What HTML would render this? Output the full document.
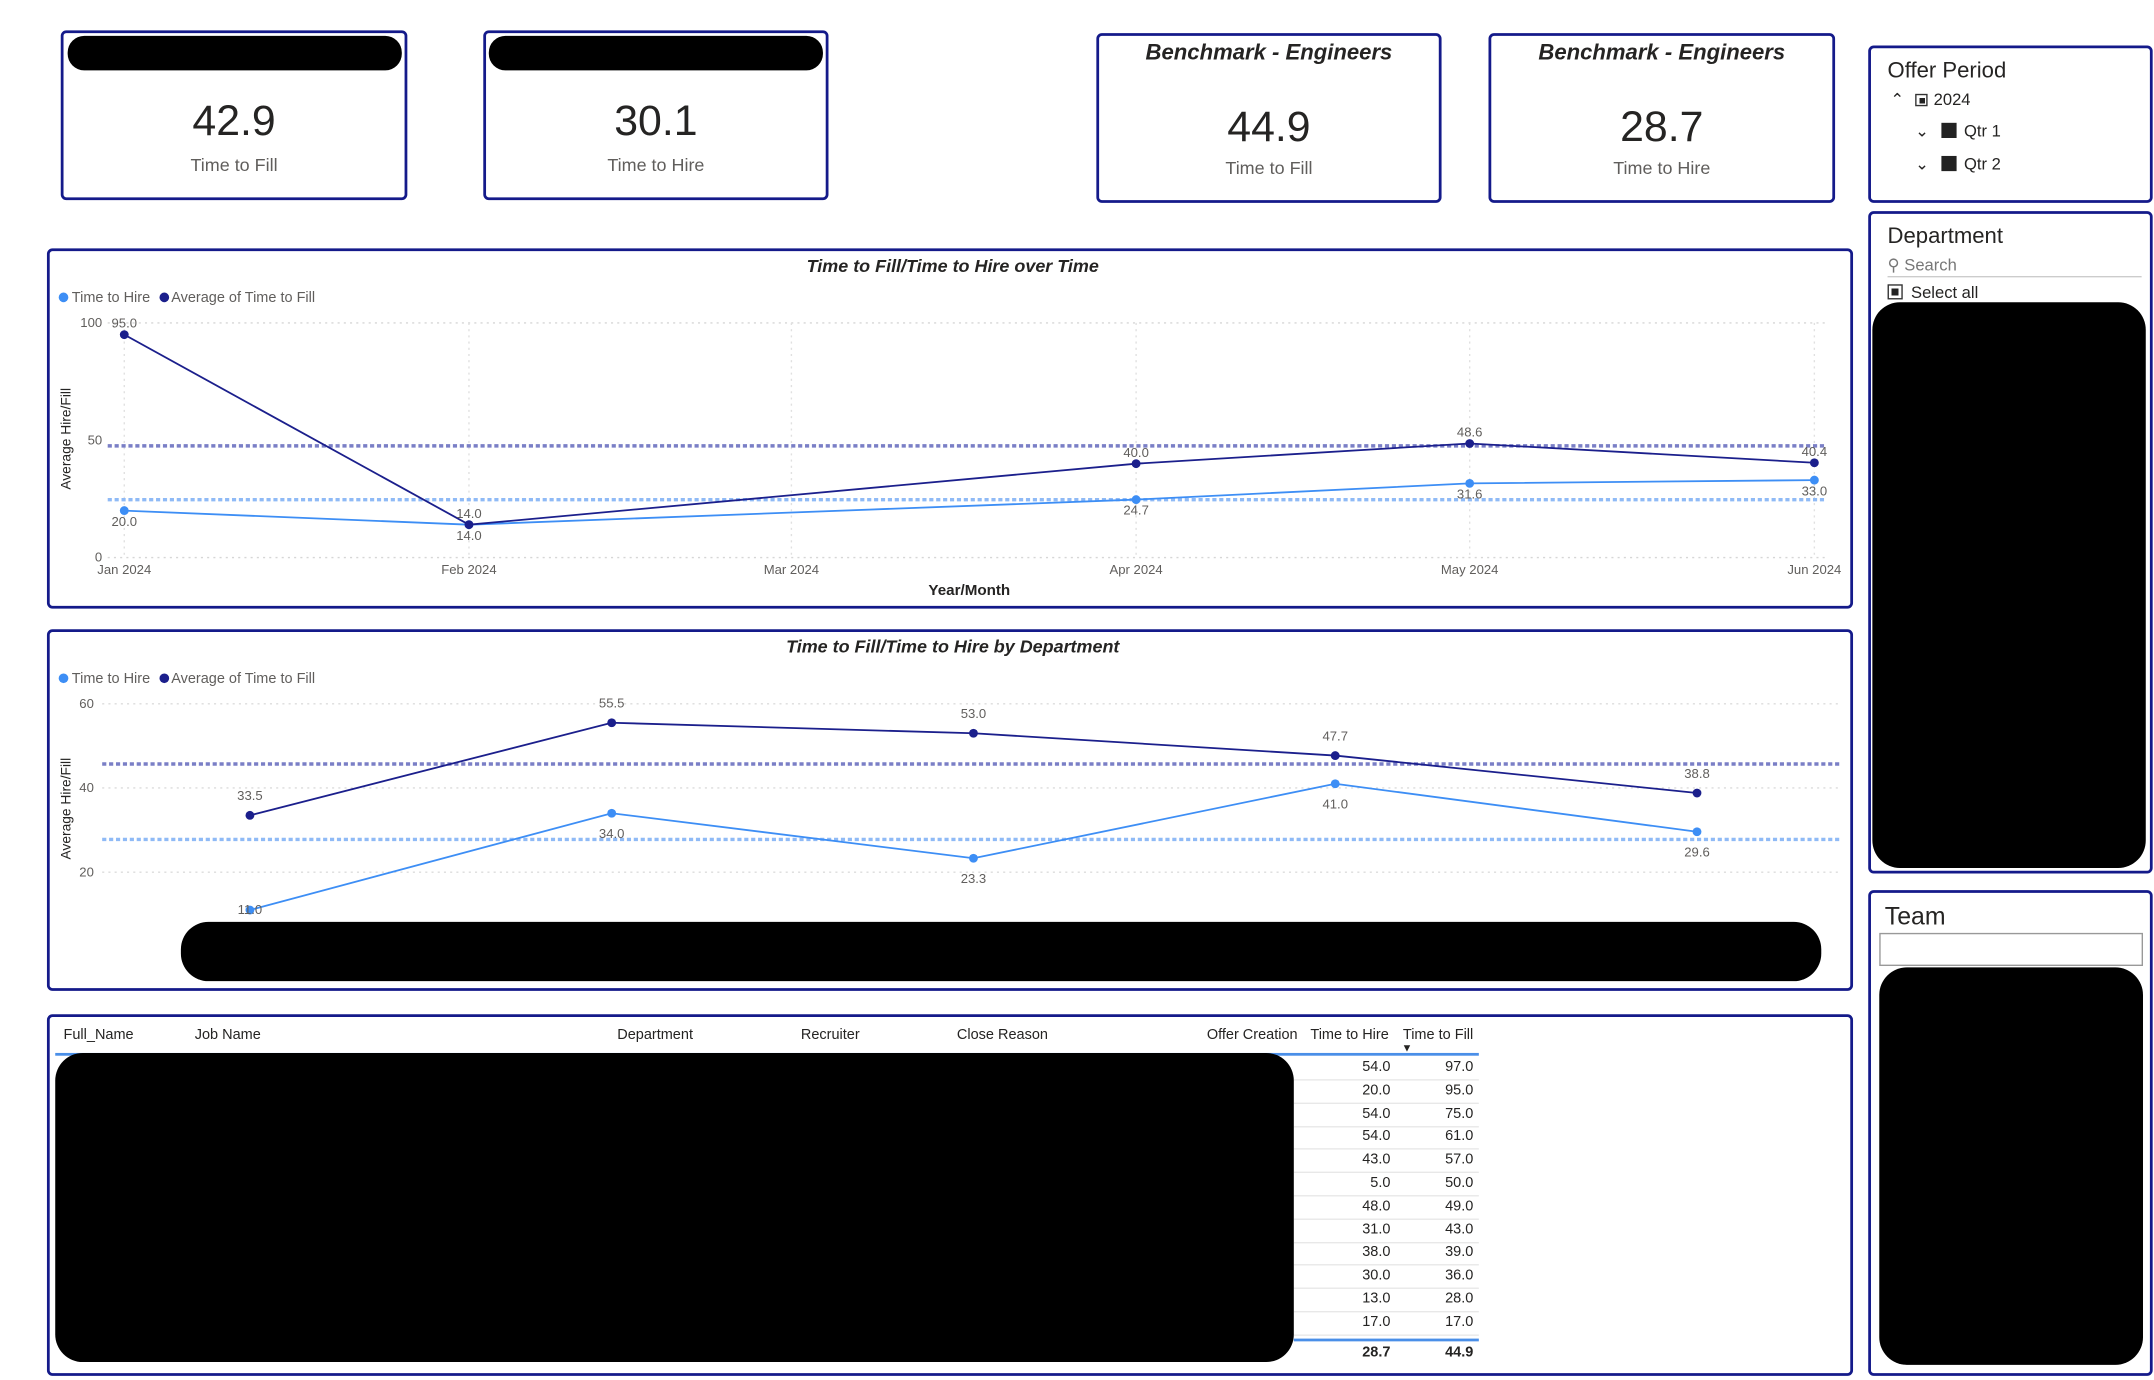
<!DOCTYPE html>
<html><head><meta charset="utf-8">
<style>
html,body{margin:0;padding:0;background:#fff;width:2154px;height:1380px;overflow:hidden}
#root{position:absolute;left:0;top:0;width:1560px;height:1000px;transform:scale(1.3808,1.38);transform-origin:0 0;font-family:"Liberation Sans",sans-serif;color:#252423}
.card{position:absolute;border:2.5px solid #141a8a;border-radius:4px;box-sizing:border-box;background:#fff}
.abs{position:absolute}
.kv{position:absolute;left:0;right:0;text-align:center;font-size:31px;color:#252423}
.kl{position:absolute;left:0;right:0;text-align:center;font-size:13px;color:#605e5c}
.kt{position:absolute;left:0;right:0;text-align:center;font-size:16px;font-weight:bold;font-style:italic;color:#252423}
.redact{position:absolute;background:#000}
.th{position:absolute;font-size:10.5px;color:#252423;top:744px}
.cell{position:absolute;font-size:10.5px;text-align:right;width:50px}
</style></head><body>
<div id="root">

<div class="card" style="left:44px;top:22px;width:251px;height:123px">
 <div class="redact" style="left:3px;top:2px;width:242px;height:25px;border-radius:12px"></div>
 <div class="kv" style="top:46px">42.9</div>
 <div class="kl" style="top:88px">Time to Fill</div>
</div>
<div class="card" style="left:350px;top:22px;width:250px;height:123px">
 <div class="redact" style="left:2px;top:2px;width:242px;height:25px;border-radius:12px"></div>
 <div class="kv" style="top:46px">30.1</div>
 <div class="kl" style="top:88px">Time to Hire</div>
</div>
<div class="card" style="left:794px;top:24px;width:250px;height:123px">
 <div class="kt" style="top:4px">Benchmark - Engineers</div>
 <div class="kv" style="top:48px">44.9</div>
 <div class="kl" style="top:88px">Time to Fill</div>
</div>
<div class="card" style="left:1078px;top:24px;width:251px;height:123px">
 <div class="kt" style="top:4px">Benchmark - Engineers</div>
 <div class="kv" style="top:48px">28.7</div>
 <div class="kl" style="top:88px">Time to Hire</div>
</div>

<div class="card" style="left:1353px;top:33px;width:206px;height:114px;overflow:hidden">
 <div class="abs" style="left:12px;top:8px;font-size:16px">Offer Period</div>
 <div class="abs" style="left:14px;top:30px;font-size:12px">⌃ <span style="display:inline-block;width:9px;height:9px;border:1px solid #333;margin:0 4px 0 5px;vertical-align:-1px;box-sizing:border-box;background:#fff;padding:1.5px;background-clip:content-box;background-color:#222"></span>2024</div>
 <div class="abs" style="left:32px;top:53px;font-size:12px">⌄ <span style="display:inline-block;width:11px;height:11px;background:#222;margin:0 5px 0 6px;vertical-align:-1px"></span>Qtr 1</div>
 <div class="abs" style="left:32px;top:77px;font-size:12px">⌄ <span style="display:inline-block;width:11px;height:11px;background:#222;margin:0 5px 0 6px;vertical-align:-1px"></span>Qtr 2</div>
</div>

<div class="card" style="left:1353px;top:153px;width:206px;height:480px">
 <div class="abs" style="left:12px;top:8px;font-size:16px">Department</div>
 <div class="abs" style="left:12px;top:30px;font-size:12px;color:#777;width:184px;border-bottom:1px solid #ccc;padding-bottom:1px">⚲ Search</div>
 <div class="abs" style="left:12px;top:50px;font-size:12px"><span style="display:inline-block;width:11px;height:11px;border:1px solid #333;box-sizing:border-box;padding:2px;background:#222;background-clip:content-box;margin-right:6px;vertical-align:-1px"></span>Select all</div>
 <div class="redact" style="left:1px;top:64px;width:198px;height:410px;border-radius:20px"></div>
</div>

<div class="card" style="left:1353px;top:645px;width:206px;height:352px">
 <div class="abs" style="left:10px;top:7px;font-size:18px">Team</div>
 <div class="abs" style="left:6px;top:29px;width:191px;height:24px;border:1px solid #999;box-sizing:border-box"></div>
 <div class="redact" style="left:6px;top:54px;width:191px;height:288px;border-radius:20px"></div>
</div>

<div class="card" style="left:34px;top:180px;width:1308px;height:261px"></div>
<div class="card" style="left:34px;top:456px;width:1308px;height:262px"></div>
<svg id="charts" class="abs" style="left:0;top:0" width="1560" height="1000"></svg>
<div class="redact" style="left:131px;top:668px;width:1188px;height:43px;border-radius:20px"></div>

<div class="card" style="left:34px;top:735px;width:1308px;height:262px"></div>
<div class="th" style="left:46px">Full_Name</div>
<div class="th" style="left:141px">Job Name</div>
<div class="th" style="left:447px">Department</div>
<div class="th" style="left:580px">Recruiter</div>
<div class="th" style="left:693px">Close Reason</div>
<div class="th" style="left:874px">Offer Creation</div>
<div class="th" style="left:949px">Time to Hire</div>
<div class="th" style="left:1016px">Time to Fill</div>
<div class="abs" style="left:1015px;top:755px;font-size:8px">▼</div>
<div class="abs" style="left:40px;top:763px;width:1031px;height:1.5px;background:#4a8fe8"></div>
<div id="rows"></div>
<div class="abs" style="left:937px;top:970px;width:134px;height:2px;background:#4a8fe8"></div>
<div class="cell" style="left:957px;top:974px;font-weight:bold">28.7</div>
<div class="cell" style="left:1017px;top:974px;font-weight:bold">44.9</div>
<div class="redact" style="left:40px;top:763px;width:897px;height:224px;border-radius:20px"></div>
</div>

<script>
const tableHire=[54,20,54,54,43,5,48,31,38,30,13,17];
const tableFill=[97,95,75,61,57,50,49,43,39,36,28,17];

const months=["2024-01-01","2024-02-01","2024-03-01","2024-04-01","2024-05-01","2024-06-01"];
const monthLabels=["Jan 2024","Feb 2024","Mar 2024","Apr 2024","May 2024","Jun 2024"];
const timeFill=[95.0,14.0,null,40.0,48.6,40.4];
const timeHire=[20.0,14.0,null,24.7,31.6,33.0];
const timeTicks=[0,50,100];

const deptFill=[33.5,55.5,53.0,47.7,38.8];
const deptHire=[11.0,34.0,23.3,41.0,29.6];
const deptTicks=[20,40,60];

const NS="http://www.w3.org/2000/svg";
const svg=document.getElementById('charts');
const DARK="#1b1f8c", LIGHT="#3d8ef5";
function mk(tag,attrs,parent){const e=document.createElementNS(NS,tag);for(const k in attrs)e.setAttribute(k,attrs[k]);(parent||svg).appendChild(e);return e;}
function txt(s,x,y,size,fill,anchor,extra){const t=mk('text',Object.assign({x:x,y:y,'font-size':size,fill:fill,'text-anchor':anchor||'middle','font-family':'Liberation Sans, sans-serif'},extra||{}));t.textContent=s;return t;}
function mean(a){const v=a.filter(x=>x!=null);return v.reduce((s,x)=>s+x,0)/v.length;}

// rows
const rows=document.getElementById('rows');
tableHire.forEach((h,i)=>{
  const y=767+i*16.8;
  const a=document.createElement('div');a.className='cell';a.style.left='957px';a.style.top=y+'px';a.textContent=h.toFixed(1);
  
  
  rows.appendChild(a);
  const b=document.createElement('div');b.className='cell';b.style.left='1017px';b.style.top=y+'px';b.textContent=tableFill[i].toFixed(1);
  
  
  rows.appendChild(b);
  const l=document.createElement('div');l.className='abs';l.style.cssText='left:937px;width:134px;height:1px;background:#e8e8e8;top:'+(y+15)+'px';
  
  
  rows.appendChild(l);
});

function legend(y){
  mk('circle',{cx:46,cy:y-3.5,r:3.5,fill:LIGHT});
  txt('Time to Hire',52,y,10.5,'#605e5c','start');
  mk('circle',{cx:119,cy:y-3.5,r:3.5,fill:DARK});
  txt('Average of Time to Fill',124,y,10.5,'#605e5c','start');
}

// Chart 1
(function(){
  const t0=Date.parse(months[0]), t1=Date.parse(months[5]);
  const X=d=>90+(Date.parse(d)-t0)/(t1-t0)*(1314-90);
  const Y=v=>404-v*1.7;
  const g=mk('g',{});
  
  
  txt('Time to Fill/Time to Hire over Time',690,197,13,'#252423','middle',{'font-weight':'bold','font-style':'italic'});
  legend(219);
  timeTicks.forEach(v=>{
    if(v!==50) mk('line',{x1:78,x2:1322,y1:Y(v),y2:Y(v),stroke:'#d6d6d6','stroke-dasharray':'1.5,3'});
    txt(String(v),74,Y(v)+3,9.5,'#605e5c','end');
  });
  months.forEach((m,i)=>{
    mk('line',{x1:X(m),x2:X(m),y1:Y(100),y2:Y(0),stroke:'#e0e0e0','stroke-dasharray':'1.5,3'});
    txt(monthLabels[i],X(m),416,9.5,'#605e5c');
  });
  const ax=txt('Average Hire/Fill',0,0,10,'#252423','middle',{transform:'translate(51,318) rotate(-90)'});
  txt('Year/Month',702,431,11,'#252423','middle',{'font-weight':'bold'});
  mk('line',{x1:78,x2:1322,y1:Y(mean(timeFill)),y2:Y(mean(timeFill)),stroke:'#7a7fc6','stroke-width':2.5,'stroke-dasharray':'3,2'});
  mk('line',{x1:78,x2:1322,y1:Y(mean(timeHire)),y2:Y(mean(timeHire)),stroke:'#8fbaf6','stroke-width':2.5,'stroke-dasharray':'3,2'});
  [[timeHire,LIGHT,1,11],[timeFill,DARK,-1,-5]].forEach(([arr,col,dir,off])=>{
    const pts=[];arr.forEach((v,i)=>{if(v!=null)pts.push([X(months[i]),Y(v),v]);});
    mk('polyline',{points:pts.map(p=>p[0]+','+p[1]).join(' '),fill:'none',stroke:col,'stroke-width':1.3});
    pts.forEach(p=>{mk('circle',{cx:p[0],cy:p[1],r:3.2,fill:col});txt(p[2].toFixed(1),p[0],p[1]+off,9.5,'#605e5c');});
  });
})();

// Chart 2
(function(){
  const X=i=>181+i*262;
  const Y=v=>693-v*3.05;
  txt('Time to Fill/Time to Hire by Department',690,473,13,'#252423','middle',{'font-weight':'bold','font-style':'italic'});
  legend(495);
  deptTicks.forEach(v=>{
    mk('line',{x1:74,x2:1334,y1:Y(v),y2:Y(v),stroke:'#dcdcdc','stroke-dasharray':'1.5,3'});
    txt(String(v),68,Y(v)+3,9.5,'#605e5c','end');
  });
  txt('Average Hire/Fill',0,0,10,'#252423','middle',{transform:'translate(51,586) rotate(-90)'});
  mk('line',{x1:74,x2:1334,y1:Y(mean(deptFill)),y2:Y(mean(deptFill)),stroke:'#7a7fc6','stroke-width':2.5,'stroke-dasharray':'3,2'});
  mk('line',{x1:74,x2:1334,y1:Y(mean(deptHire)),y2:Y(mean(deptHire)),stroke:'#8fbaf6','stroke-width':2.5,'stroke-dasharray':'3,2'});
  [[deptHire,LIGHT,18],[deptFill,DARK,-11]].forEach(([arr,col,off])=>{
    mk('polyline',{points:arr.map((v,i)=>X(i)+','+Y(v)).join(' '),fill:'none',stroke:col,'stroke-width':1.3});
    arr.forEach((v,i)=>{mk('circle',{cx:X(i),cy:Y(v),r:3.2,fill:col});txt(v.toFixed(1),X(i),Y(v)+(i===0&&col===LIGHT?3:off),9.5,'#605e5c');});
  });
})();
</script>
</body></html>
